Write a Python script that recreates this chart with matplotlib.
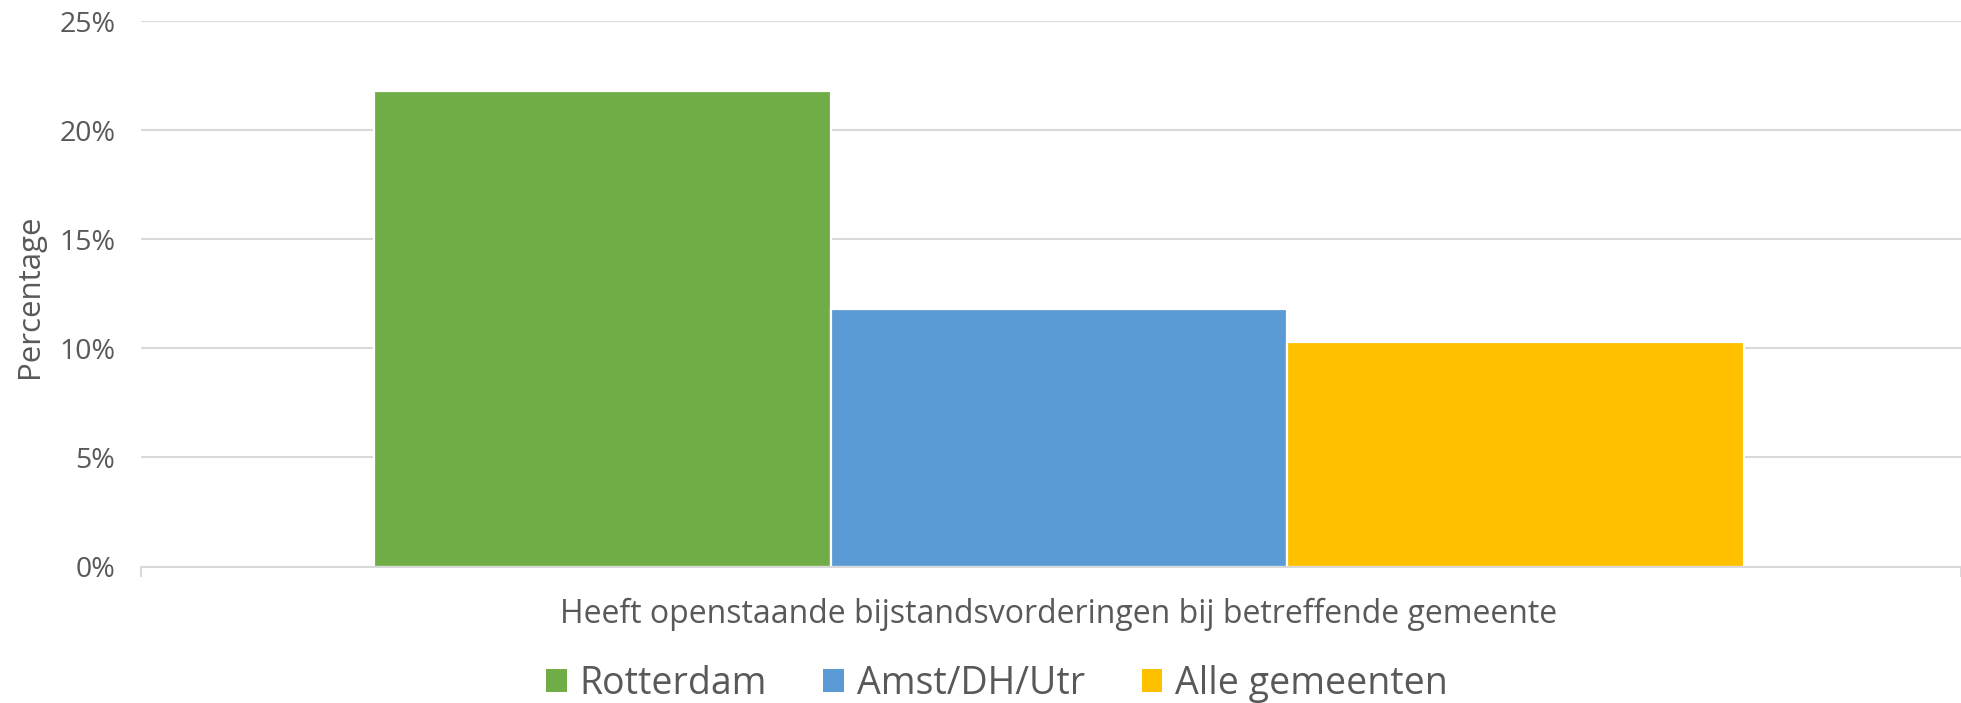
import matplotlib
matplotlib.use("Agg")
import matplotlib.pyplot as plt
from matplotlib.patches import Patch
from matplotlib.ticker import FuncFormatter

# Data
series = ["Rotterdam", "Amst/DH/Utr", "Alle gemeenten"]
values = [21.8, 11.8, 10.3]
colors = ["#70AD47", "#5B9BD5", "#FFC000"]
category = "Heeft openstaande bijstandsvorderingen bij betreffende gemeente"
yticks = [0, 5, 10, 15, 20, 25]

TXT = "#595959"
GRID = "#D9D9D9"
plt.rcParams["font.family"] = ["Open Sans", "DejaVu Sans"]

W, H = 1961, 703
fig = plt.figure(figsize=(W / 100, H / 100), dpi=100)
ax = fig.add_axes([141 / W, 1 - 566.5 / H, (1961 - 141) / W, (566.5 - 21) / H])

positions = list(range(len(values)))
ax.bar(positions, values, width=1.0, color=colors, edgecolor="white", linewidth=1.6, zorder=3)

ax.set_xlim(-1.01, 2.975)
ax.set_ylim(0, 25)
ax.set_yticks(yticks)
ax.yaxis.set_major_formatter(FuncFormatter(lambda v, p: f"{v:.0f}%"))
ax.grid(axis="y", color=GRID, linewidth=1.5, zorder=0)
ax.set_axisbelow(True)

for s in ["top", "right", "left"]:
    ax.spines[s].set_visible(False)
ax.spines["bottom"].set_color(GRID)
ax.spines["bottom"].set_linewidth(1.5)
ax.spines["bottom"].set_zorder(4)

ax.set_xticks([-1.01, 2.975])
ax.set_xticklabels([])
ax.tick_params(axis="x", length=7, width=1.5, color=GRID)
ax.tick_params(axis="y", length=0, pad=18.5, labelsize=20.5, labelcolor=TXT)

fig.text(30 / W, 1 - 296 / H, "Percentage", rotation=90, ha="center", va="center",
         fontsize=22.5, color=TXT)

fig.text(1059 / W, 1 - 614 / H, category, ha="center", va="center", fontsize=23, color=TXT)

handles = [Patch(facecolor=c, edgecolor="none") for c in colors]
fig.legend(handles, series, loc="center", bbox_to_anchor=(997 / W, 1 - 684 / H), ncol=3,
           frameon=False, fontsize=27, labelcolor=TXT, handlelength=0.55, handleheight=0.55,
           handletextpad=0.35, columnspacing=1.5, borderpad=0)

fig.savefig("out.png", dpi=100)
